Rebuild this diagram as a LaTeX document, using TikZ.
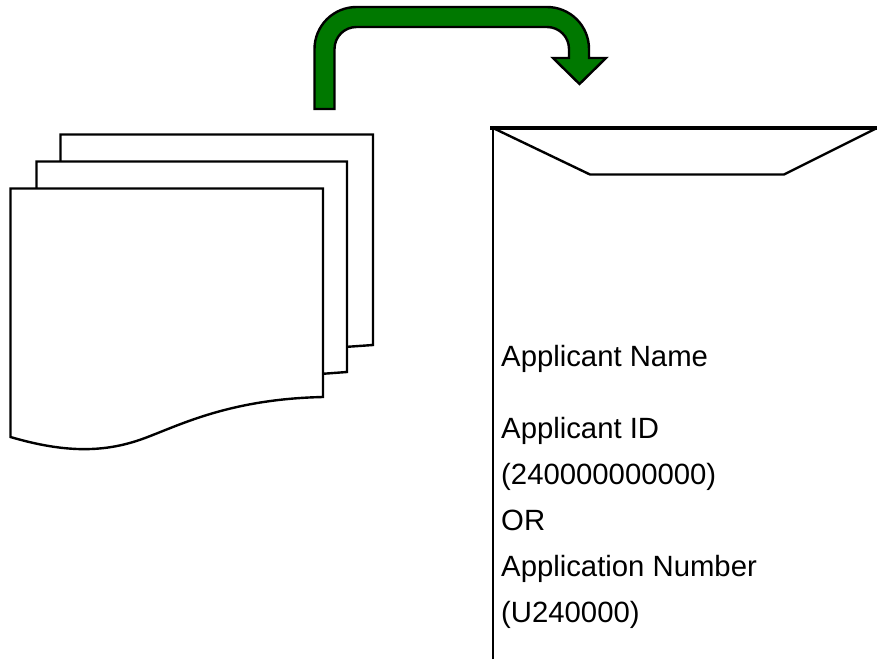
\documentclass[tikz,border=0pt]{standalone}
\usepackage{fontspec}
\setmainfont{Liberation Sans}
\definecolor{arrowgreen}{RGB}{0,120,0}
\tikzset{
  sheet/.style={draw=black,fill=white,line width=2.4pt,line join=miter},
  bentarrow/.style={draw=black,fill=arrowgreen,line width=2.4pt,line join=miter},
  label/.style={anchor=base west,inner sep=0pt,font=\fontsize{29.3pt}{34pt}\selectfont}
}
\begin{document}
\begin{tikzpicture}[x=1pt,y=-1pt]
\useasboundingbox (0,0) rectangle (877,659);
% bent arrow
\draw[bentarrow] (314.5,109) -- (314.5,49)
  .. controls (314.5,25.8) and (333.3,7) .. (356.5,7)
  -- (547,7)
  .. controls (570.2,7) and (589,25.8) .. (589,49)
  -- (589,58) -- (606,58) -- (579.5,84) -- (553,58) -- (569,58) -- (569,49)
  .. controls (569,36.8) and (559.2,27) .. (547,27)
  -- (356.5,27)
  .. controls (344.3,27) and (334.5,36.8) .. (334.5,49)
  -- (334.5,109) -- cycle;
% sheets
\draw[sheet] (60.5,134.5) -- (373,134.5) -- (373,345) -- (330,348) -- (60.5,348) -- cycle;
\draw[sheet] (36.5,161.5) -- (347,161.5) -- (347,372) -- (320,374) -- (36.5,374) -- cycle;
\draw[sheet] (10.5,188.5) -- (323,188.5) -- (323,397)
  .. controls (230,399) and (180,425) .. (145,438)
  .. controls (105,453) and (65,453) .. (10.5,437) -- cycle;
% envelope
\draw[line width=2.4pt] (493,659) -- (493,128);
\draw[line width=3.2pt] (490,128) -- (877,128);
\draw[line width=2.4pt,line join=miter] (493,128) -- (590,174.5) -- (784,174.5) -- (877,128);
% text
\node[label] (name) at (501,366) {Applicant Name};
\node[label] (id) at (501,438) {Applicant ID};
\node[label] (idval) at (501,484) {(240000000000)};
\node[label] (or) at (501,530) {OR};
\node[label] (num) at (501,576) {Application Number};
\node[label] (numval) at (501,622) {(U240000)};
\end{tikzpicture}
\end{document}
